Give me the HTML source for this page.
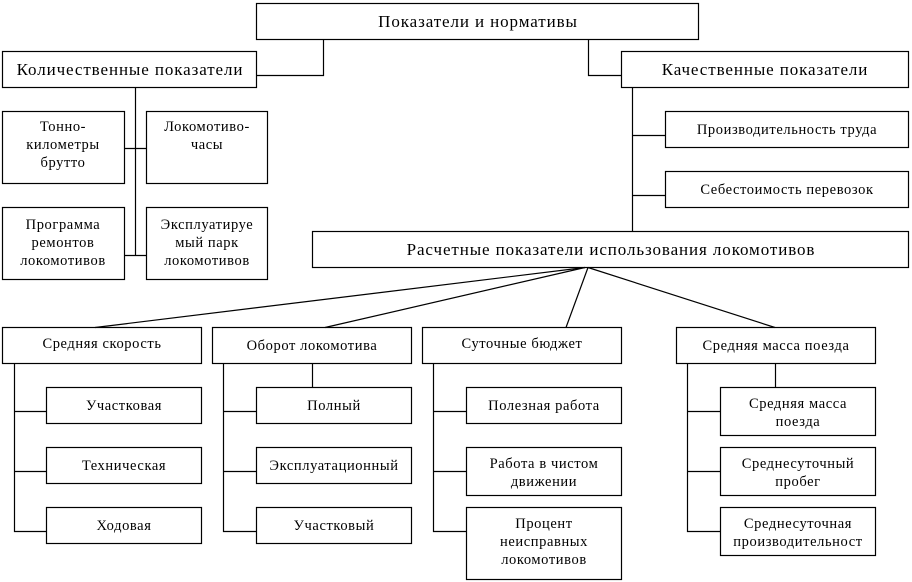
<!DOCTYPE html>
<html><head><meta charset="utf-8"><style>
html,body{margin:0;padding:0;background:#fff;}
svg{display:block;}
text{font-family:"Liberation Serif","DejaVu Serif",serif;fill:#000;text-anchor:middle;}
.b{font-size:17px;letter-spacing:0.9px;}
.s{font-size:14.5px;letter-spacing:0.6px;}
</style></head><body>
<svg width="912" height="582" viewBox="0 0 912 582" xmlns="http://www.w3.org/2000/svg">
<g fill="#fff" stroke="#000" stroke-width="1.2">
<rect x="256.5" y="3.5" width="442" height="36"/>
<rect x="2.5" y="51.5" width="254" height="36"/>
<rect x="621.5" y="51.5" width="287" height="36"/>
<rect x="2.5" y="111.5" width="122" height="72"/>
<rect x="146.5" y="111.5" width="121" height="72"/>
<rect x="2.5" y="207.5" width="122" height="72"/>
<rect x="146.5" y="207.5" width="121" height="72"/>
<rect x="665.5" y="111.5" width="243" height="36"/>
<rect x="665.5" y="171.5" width="243" height="36"/>
<rect x="312.5" y="231.5" width="596" height="36"/>
<rect x="2.5" y="327.5" width="199" height="36"/>
<rect x="212.5" y="327.5" width="199" height="36"/>
<rect x="422.5" y="327.5" width="199" height="36"/>
<rect x="676.5" y="327.5" width="199" height="36"/>
<rect x="46.5" y="387.5" width="155" height="36"/>
<rect x="46.5" y="447.5" width="155" height="36"/>
<rect x="46.5" y="507.5" width="155" height="36"/>
<rect x="256.5" y="387.5" width="155" height="36"/>
<rect x="256.5" y="447.5" width="155" height="36"/>
<rect x="256.5" y="507.5" width="155" height="36"/>
<rect x="466.5" y="387.5" width="155" height="36"/>
<rect x="466.5" y="447.5" width="155" height="48"/>
<rect x="466.5" y="507.5" width="155" height="72"/>
<rect x="720.5" y="387.5" width="155" height="48"/>
<rect x="720.5" y="447.5" width="155" height="48"/>
<rect x="720.5" y="507.5" width="155" height="48"/>
</g>
<g fill="none" stroke="#000" stroke-width="1.2">
<polyline points="323.5,39.5 323.5,75.5 256.5,75.5"/>
<polyline points="588.5,39.5 588.5,75.5 621.5,75.5"/>
<line x1="135.5" y1="87.5" x2="135.5" y2="255.5"/>
<line x1="124.5" y1="148.5" x2="146.5" y2="148.5"/>
<line x1="124.5" y1="255.5" x2="146.5" y2="255.5"/>
<line x1="632.5" y1="87.5" x2="632.5" y2="231.5"/>
<line x1="632.5" y1="135.5" x2="665.5" y2="135.5"/>
<line x1="632.5" y1="195.5" x2="665.5" y2="195.5"/>
<line x1="585" y1="267.5" x2="95" y2="327.5"/>
<line x1="585" y1="267.5" x2="325" y2="327.5"/>
<line x1="588" y1="267.5" x2="566" y2="327.5"/>
<line x1="588" y1="267.5" x2="775" y2="327.5"/>
<polyline points="14.5,363.5 14.5,531.5 46.5,531.5"/>
<line x1="14.5" y1="411.5" x2="46.5" y2="411.5"/>
<line x1="14.5" y1="471.5" x2="46.5" y2="471.5"/>
<polyline points="223.5,363.5 223.5,531.5 256.5,531.5"/>
<line x1="223.5" y1="411.5" x2="256.5" y2="411.5"/>
<line x1="223.5" y1="471.5" x2="256.5" y2="471.5"/>
<line x1="312.5" y1="363.5" x2="312.5" y2="387.5"/>
<polyline points="433.5,363.5 433.5,531.5 466.5,531.5"/>
<line x1="433.5" y1="411.5" x2="466.5" y2="411.5"/>
<line x1="433.5" y1="471.5" x2="466.5" y2="471.5"/>
<polyline points="687.5,363.5 687.5,531.5 720.5,531.5"/>
<line x1="687.5" y1="411.5" x2="720.5" y2="411.5"/>
<line x1="687.5" y1="471.5" x2="720.5" y2="471.5"/>
<line x1="775.5" y1="363.5" x2="775.5" y2="387.5"/>
</g>
<text class="b" x="478" y="27">Показатели и нормативы</text>
<text class="b" x="130" y="75">Количественные показатели</text>
<text class="b" x="765" y="75">Качественные показатели</text>
<text class="b" x="611" y="255">Расчетные показатели использования локомотивов</text>
<text class="s" x="63" y="131">Тонно-</text>
<text class="s" x="63" y="149">километры</text>
<text class="s" x="63" y="167">брутто</text>
<text class="s" x="207" y="131">Локомотиво-</text>
<text class="s" x="207" y="149">часы</text>
<text class="s" x="63" y="229">Программа</text>
<text class="s" x="63" y="247">ремонтов</text>
<text class="s" x="63" y="265">локомотивов</text>
<text class="s" x="207" y="229">Эксплуатируе</text>
<text class="s" x="207" y="247">мый парк</text>
<text class="s" x="207" y="265">локомотивов</text>
<text class="s" x="787" y="134">Производительность труда</text>
<text class="s" x="787" y="194">Себестоимость перевозок</text>
<text class="s" x="102" y="348">Средняя скорость</text>
<text class="s" x="312" y="350">Оборот локомотива</text>
<text class="s" x="522" y="348">Суточные бюджет</text>
<text class="s" x="776" y="350">Средняя масса поезда</text>
<text class="s" x="124" y="410">Участковая</text>
<text class="s" x="124" y="470">Техническая</text>
<text class="s" x="124" y="530">Ходовая</text>
<text class="s" x="334" y="410">Полный</text>
<text class="s" x="334" y="470">Эксплуатационный</text>
<text class="s" x="334" y="530">Участковый</text>
<text class="s" x="544" y="410">Полезная работа</text>
<text class="s" x="544" y="468">Работа в чистом</text>
<text class="s" x="544" y="486">движении</text>
<text class="s" x="544" y="528">Процент</text>
<text class="s" x="544" y="546">неисправных</text>
<text class="s" x="544" y="564">локомотивов</text>
<text class="s" x="798" y="408">Средняя масса</text>
<text class="s" x="798" y="426">поезда</text>
<text class="s" x="798" y="468">Среднесуточный</text>
<text class="s" x="798" y="486">пробег</text>
<text class="s" x="798" y="528">Среднесуточная</text>
<text class="s" x="798" y="546">производительност</text>
</svg>
</body></html>
